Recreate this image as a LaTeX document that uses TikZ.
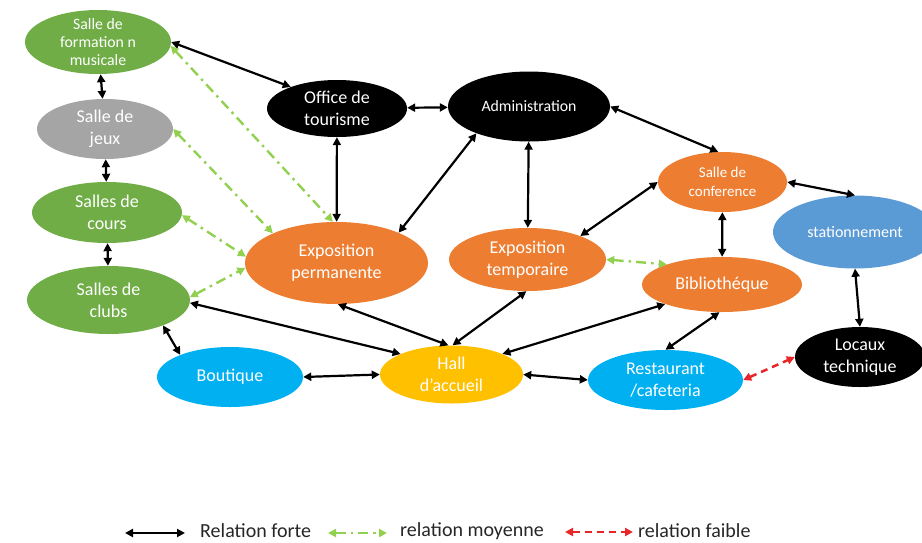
\documentclass[tikz,border=0pt]{standalone}
\usepackage{fontspec}
\setmainfont{Carlito}
\usepackage{xcolor}
\usetikzlibrary{shapes.geometric,arrows.meta}

\definecolor{greenroom}{HTML}{70AD47}
\definecolor{grayroom}{HTML}{A5A5A5}
\definecolor{orangeroom}{HTML}{ED7D31}
\definecolor{bluepark}{HTML}{5B9BD5}
\definecolor{cyanroom}{HTML}{00B0F0}
\definecolor{yellowhall}{HTML}{FFC000}
\definecolor{greenlink}{HTML}{92D050}
\definecolor{redlink}{HTML}{E8262A}

\begin{document}
\begin{tikzpicture}[x=1pt, y=-1pt,
  room/.style    = {ellipse, inner sep=-6pt, align=center, text=white,
                    font=\fontsize{18}{22}\selectfont},
  small/.style   = {font=\fontsize{15.8}{18.3}\selectfont},
  leisure/.style = {room, fill=greenroom},
  games/.style   = {room, fill=grayroom},
  staff/.style   = {room, fill=black},
  expo/.style    = {room, fill=orangeroom},
  park/.style    = {room, fill=bluepark},
  service/.style = {room, fill=cyanroom},
  hub/.style     = {room, fill=yellowhall},
  tip/.tip       = {Triangle[length=8pt, width=8pt]},
  strong/.style  = {tip-tip, line width=2.2pt, draw=black},
  medium/.style  = {tip-tip, line width=2.4pt, draw=greenlink,
                    dash pattern=on 10pt off 5pt on 2.5pt off 5pt},
  weak/.style    = {tip-tip, line width=2.5pt, draw=redlink,
                    dash pattern=on 7pt off 5pt},
  legend/.style  = {anchor=west, inner sep=0pt, text=black!85,
                    font=\fontsize{20}{22}\selectfont}
]
\useasboundingbox (0,0) rectangle (922,542);

% -- Left column: cultural and leisure rooms --
\node[leisure, small, minimum width=146pt, minimum height=64pt] (musique) at (98,42)
      {Salle de\\formation n\\musicale};
\node[games,   minimum width=136pt, minimum height=60pt] (jeux)  at (105,129) {Salle de\\jeux};
\node[leisure, minimum width=150pt, minimum height=61pt] (cours) at (107,212.5) {Salles de\\cours};
\node[leisure, minimum width=163pt, minimum height=68pt] (clubs) at (108.5,300) {Salles de\\clubs};

% -- Top row: administration --
\node[staff, minimum width=140pt, minimum height=57pt] (office) at (337,108.5) {Office de\\tourisme};
\node[staff, small, minimum width=162pt, minimum height=70pt] (admin) at (529,106.5) {Administration};

% -- Middle row: exhibitions, conference, library --
\node[expo, minimum width=183pt, minimum height=82pt] (expoperm) at (336.5,263) {Exposition\\permanente};
\node[expo, minimum width=157pt, minimum height=63pt] (expotemp) at (527.5,259.5) {Exposition\\temporaire};
\node[expo, font=\fontsize{15}{19}\selectfont, minimum width=129pt, minimum height=60pt] (conf) at (722.5,182)
      {Salle de\\conference};
\node[expo, minimum width=160pt, minimum height=55pt] (biblio) at (722,284.5) {Bibliothéque};

% -- Right column: technical side --
\node[park, font=\fontsize{16}{20}\selectfont, minimum width=164pt, minimum height=73pt] (parking) at (855,232)
      {stationnement};
\node[staff, minimum width=130pt, minimum height=60pt] (locaux) at (860,357) {Locaux\\technique};

% -- Bottom row: reception and services --
\node[service, minimum width=146pt, minimum height=60pt] (boutique) at (230,377) {Boutique};
\node[hub,     minimum width=143pt, minimum height=58pt] (hall) at (451.5,374.5) {Hall\\d’accueil};
\node[service, minimum width=155pt, minimum height=60pt] (resto) at (665.5,380) {Restaurant\\/cafeteria};

% -- Strong relations --
\draw[strong] (musique.east) -- (office.155);
\draw[strong] (musique) -- (jeux);
\draw[strong] (jeux) -- (cours);
\draw[strong] (cours) -- (clubs);
\draw[strong] (office) -- (admin);
\draw[strong] (office) -- (expoperm);
\draw[strong] (expoperm.26) -- (admin.207);
\draw[strong] (admin) -- (expotemp);
\draw[strong] (admin.east) -- (conf.98);
\draw[strong] (expotemp.24) -- (conf.west);
\draw[strong] (conf) -- (biblio);
\draw[strong] (conf.east) -- (parking.north);
\draw[strong] (parking.south) -- (locaux.north);
\draw[strong] (clubs.358) -- (hall.158);
\draw[strong] (clubs.335) -- (boutique.156);
\draw[strong] (boutique.east) -- (hall.west);
\draw[strong] (expoperm.272) -- (hall.96);
\draw[strong] (expotemp.268) -- (hall.88);
\draw[strong] (biblio.199) -- (hall.22);
\draw[strong] (hall.east) -- (resto.west);
\draw[strong] (biblio.265) -- (resto.north);

% -- Medium relations --
\draw[medium] (musique.357) -- (expoperm.95);
\draw[medium] (jeux.east) -- (expoperm.155);
\draw[medium] (cours.358) -- (expoperm.176);
\draw[medium] (clubs.2) -- (expoperm.183);
\draw[medium] (expotemp.east) -- (biblio.160);

% -- Weak relation --
\draw[weak] (resto.east) -- (locaux.west);

% -- Legend --
\coordinate (fortA) at (125,533);  \coordinate (fortB) at (185,533);
\coordinate (moyA)  at (328,533);  \coordinate (moyB)  at (387,533);
\coordinate (faibA) at (565,532);  \coordinate (faibB) at (633,532);
\draw[strong] (fortA) -- (fortB);
\draw[medium] (moyA) -- (moyB);
\draw[weak]   (faibA) -- (faibB);
\node[legend] (fortText) at (200,531) {Relation forte};
\node[legend] (moyText)  at (400,531) {relation moyenne};
\node[legend] (faibText) at (638,531) {relation faible};

\end{tikzpicture}
\end{document}
